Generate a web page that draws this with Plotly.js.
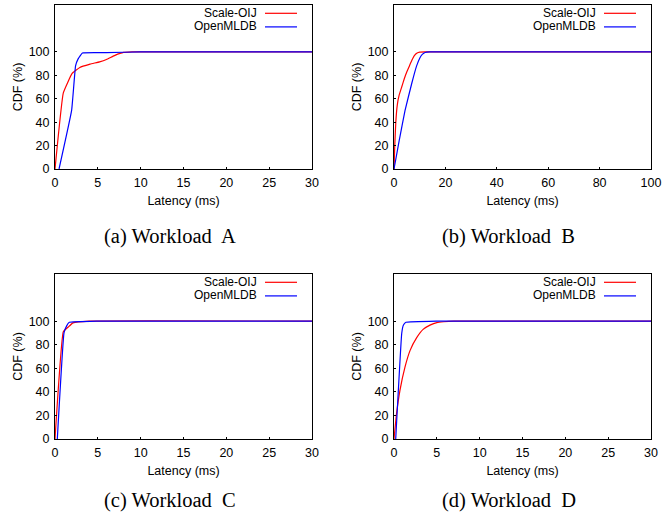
<!DOCTYPE html>
<html>
<head>
<meta charset="utf-8">
<script src="https://cdn.plot.ly/plotly-3.0.1.min.js"></script>
<style>html,body{margin:0;padding:0;background:#fff;}#chart{width:662px;height:516px;}</style>
</head>
<body>
<div id="chart"></div>
<script>
// ---- Data (latency ms, CDF %) ----
const seriesNames = ["Scale-OIJ", "OpenMLDB"];
const panelCaptions = ["(a) Workload&nbsp; A", "(b) Workload&nbsp; B", "(c) Workload&nbsp; C", "(d) Workload&nbsp; D"];
const yTickVals = [0, 20, 40, 60, 80, 100];

// Workload A
const aOijX = [0, 0.97, 2.0, 2.9, 4.1, 5.2, 6.0, 7.0, 8.0, 9.0, 30];
const aOijY = [0, 65, 81.6, 86.7, 89.5, 91.5, 93.5, 97, 99.5, 100, 100];
const aMldbX = [0.47, 1.94, 2.4, 2.7, 3.2, 6, 10, 30];
const aMldbY = [0, 50, 88, 94, 99, 99.3, 100, 100];

// Workload B
const bOijX = [0, 0.3, 0.7, 1.3, 2, 3, 4, 5, 6, 7, 8, 9, 10, 12, 100];
const bOijY = [0, 20, 40, 55, 63, 70, 77, 83, 88, 93, 97, 99, 99.8, 100, 100];
const bMldbX = [0, 2, 4.3, 6.9, 8.8, 10.1, 11, 12.1, 14, 100];
const bMldbY = [0, 24, 50, 73, 88, 95, 97.8, 99.5, 100, 100];

// Workload C
const cOijX = [0, 0.97, 1.55, 2.1, 4, 30];
const cOijY = [0, 91, 95, 98.5, 100, 100];
const cMldbX = [0.27, 1.05, 1.36, 1.67, 5, 30];
const cMldbY = [0, 90, 96, 99, 100, 100];

// Workload D
const dOijX = [0, 0.3, 0.7, 1.28, 1.87, 2.65, 3.4, 4.2, 5.0, 5.8, 7, 30];
const dOijY = [0, 21.7, 41.5, 61, 75, 86, 93, 96.6, 98.8, 99.5, 100, 100];
const dMldbX = [0.2, 0.9, 1.09, 1.4, 5, 30];
const dMldbY = [0, 89.5, 96.6, 99, 100, 100];

const xMax = [30, 100, 30, 30];
const xDtick = [5, 20, 5, 5];

// ---- Layout geometry (pixels) ----
const W = 662, H = 516;
const panels = [
  {l: 55, r: 312, t: 5, b: 169, cap: 237},
  {l: 394, r: 651, t: 5, b: 169, cap: 237},
  {l: 55, r: 312, t: 274, b: 439, cap: 500},
  {l: 394, r: 651, t: 274, b: 439, cap: 500}
];
const colors = ["#ff0000", "#0000ff"];
const data = [
  [aOijX, aOijY, aMldbX, aMldbY],
  [bOijX, bOijY, bMldbX, bMldbY],
  [cOijX, cOijY, cMldbX, cMldbY],
  [dOijX, dOijY, dMldbX, dMldbY]
];
const FS = 12.5;
const LFS = 12;
const SANS = "Liberation Sans, Arial, sans-serif";

const traces = [];
const layout = {
  width: W, height: H,
  margin: {l: 0, r: 0, t: 0, b: 0},
  paper_bgcolor: "#fff", plot_bgcolor: "#fff",
  showlegend: false,
  font: {family: SANS, size: FS, color: "#000"},
  annotations: [], shapes: []
};
const fx = px => px / W;
const fy = py => 1 - py / H;

panels.forEach((p, i) => {
  const n = i + 1;
  const xa = "x" + (n === 1 ? "" : n), ya = "y" + (n === 1 ? "" : n);
  const d = data[i];
  [0, 1].forEach(s => {
    traces.push({
      x: d[2 * s], y: d[2 * s + 1], type: "scatter", mode: "lines",
      name: seriesNames[s], xaxis: xa, yaxis: ya,
      line: {color: colors[s], width: 1.2, shape: "spline", smoothing: 0.3}
    });
  });
  const axCommon = {
    showgrid: false, zeroline: false, showline: true, linecolor: "#000", linewidth: 1,
    mirror: true, ticks: "inside", ticklen: 2, tickcolor: "#000", tickwidth: 1,
    ticklabelstandoff: 2,
    tickfont: {family: SANS, size: FS, color: "#000"}
  };
  layout["xaxis" + (n === 1 ? "" : n)] = Object.assign({}, axCommon, {
    domain: [fx(p.l), fx(p.r)], anchor: ya, range: [0, xMax[i]], dtick: xDtick[i], tick0: 0,
    title: {text: "Latency (ms)", font: {family: SANS, size: FS}, standoff: 7}
  });
  layout["yaxis" + (n === 1 ? "" : n)] = Object.assign({}, axCommon, {
    domain: [fy(p.b), fy(p.t)], anchor: xa, range: [0, 140], tickvals: yTickVals,
    title: {text: "CDF (%)", font: {family: SANS, size: FS}, standoff: 3}
  });
  // legend (text left, sample line right)
  [0, 1].forEach(s => {
    const ly = p.t + 7.8 + s * 13.6;
    layout.annotations.push({
      xref: "paper", yref: "paper", x: fx(p.r - 54), y: fy(ly), xanchor: "right", yanchor: "middle",
      text: seriesNames[s], showarrow: false, borderpad: 0,
      font: {family: SANS, size: LFS, color: "#000"}
    });
    layout.shapes.push({
      type: "line", xref: "paper", yref: "paper",
      x0: fx(p.r - 47), x1: fx(p.r - 15), y0: fy(ly + 0.5), y1: fy(ly + 0.5),
      line: {color: colors[s], width: 1.2}
    });
  });
  // caption
  layout.annotations.push({
    xref: "paper", yref: "paper", x: fx((p.l + p.r) / 2 - 14), y: fy(p.cap), xanchor: "center", yanchor: "middle",
    text: panelCaptions[i], showarrow: false,
    font: {family: "Liberation Serif, Times New Roman, serif", size: 20.5, color: "#000"}
  });
});

Plotly.newPlot("chart", traces, layout, {displayModeBar: false, staticPlot: true});
</script>
</body>
</html>
